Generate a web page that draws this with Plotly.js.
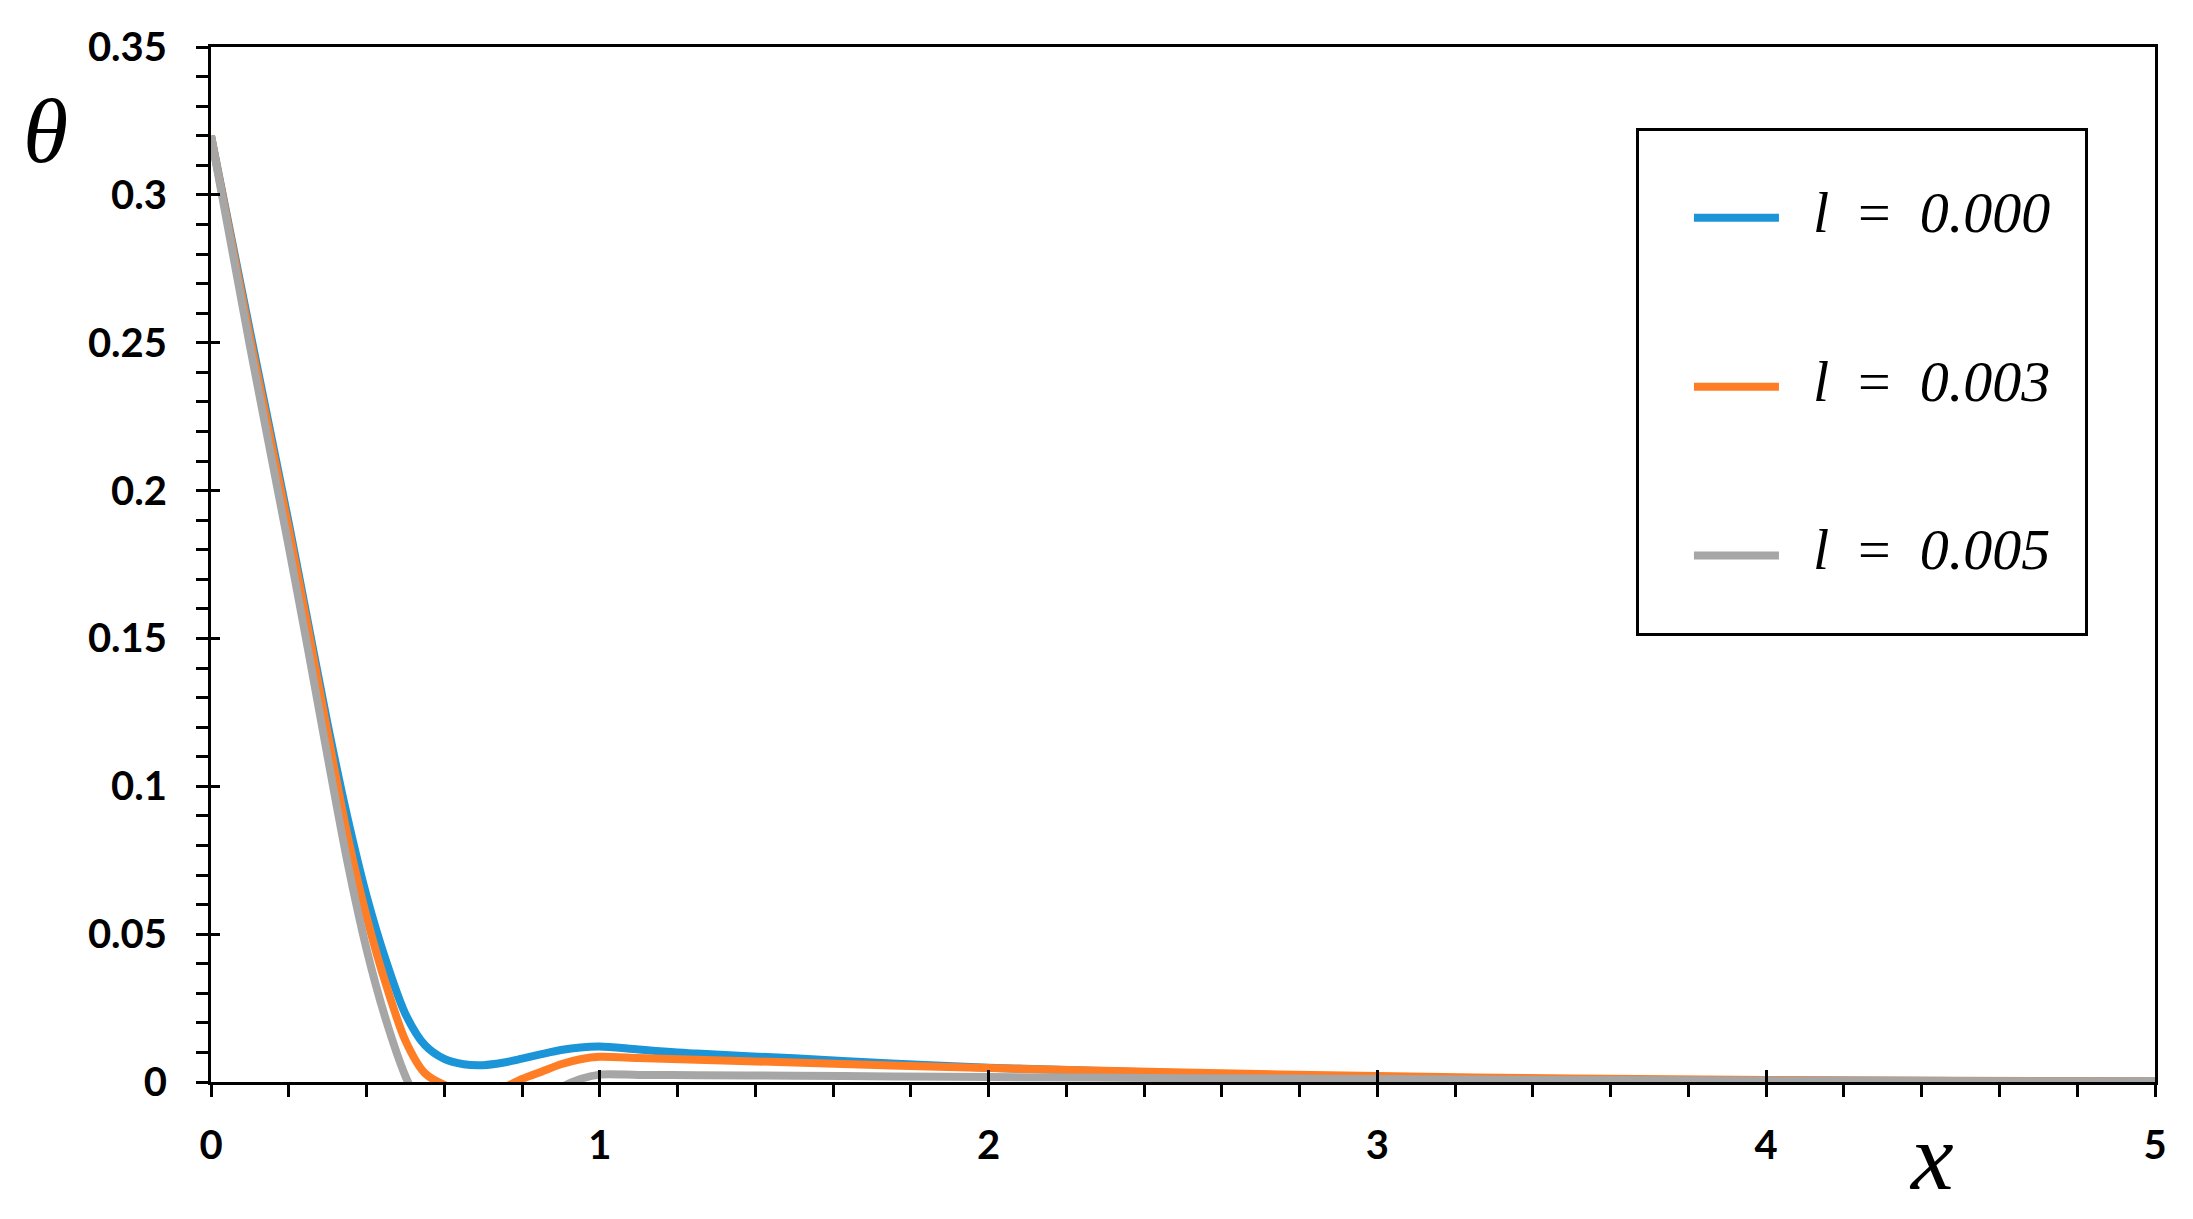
<!DOCTYPE html>
<html>
<head>
<meta charset="utf-8">
<script src="https://cdn.plot.ly/plotly-3.0.1.min.js"></script>
<style>
  body { margin: 0; background: #fff; }
</style>
</head>
<body>
<div id="chart" style="width:2193px;height:1219px"></div>
<script>
// values
const xVals = [0, 0.1, 0.2, 0.25, 0.3, 0.35, 0.4, 0.45, 0.5, 0.55, 0.6, 0.65, 0.7, 0.75, 0.8, 0.85,
  0.9, 0.95, 1.0, 1.1, 1.25, 1.5, 1.75, 2.0, 2.5, 3.0, 3.5, 4.0, 4.5, 5.0];

const thetaL000 = [0.32, 0.254, 0.189, 0.155, 0.121, 0.09, 0.063, 0.041, 0.023, 0.0125, 0.0078, 0.006,
  0.0057, 0.0065, 0.0079, 0.0094, 0.0108, 0.0117, 0.012, 0.011, 0.0096, 0.008, 0.0063, 0.0048,
  0.003, 0.0016, 0.0009, 0.0005, 0.0003, 0.0002];

const thetaL003 = [0.32, 0.252, 0.187, 0.153, 0.118, 0.084, 0.056, 0.033, 0.014, 0.003, -0.001, -0.003,
  -0.0035, -0.002, 0.001, 0.0035, 0.006, 0.0077, 0.0085, 0.0081, 0.0075, 0.0066, 0.0056, 0.0047,
  0.0032, 0.002, 0.0012, 0.0007, 0.0004, 0.0002];

const thetaL005 = [0.32, 0.249, 0.181, 0.146, 0.11, 0.075, 0.045, 0.021, 0.002, -0.011, -0.019, -0.023,
  -0.024, -0.02, -0.014, -0.008, -0.002, 0.001, 0.0025, 0.0024, 0.0023, 0.0021, 0.0019, 0.0017,
  0.0013, 0.001, 0.0007, 0.0005, 0.0003, 0.0002];

const lValues = ["0.000", "0.003", "0.005"];
const lineColors = ["#1B94D8", "#FF7D25", "#A6A6A6"];

const sp = "\u00A0";
const makeName = (v, last) =>
  "<span style='font-size:58px'>" + sp + sp + "<i>l</i>" + sp + sp + "=" + sp + sp +
  "<i>" + v + "</i>" + sp + sp + "</span>" + (last ? "<br>" + sp : "");

const ySeries = [thetaL000, thetaL003, thetaL005];
let traces = ySeries.map((ys, i) => ({
  name: makeName(lValues[i], i === ySeries.length - 1),
  x: xVals,
  y: ys,
  type: "scatter",
  mode: "lines",
  line: { color: lineColors[i], width: 8, shape: "spline", smoothing: 0.8 },
  legendgroup: "g" + i,
  hoverinfo: "skip",
}));

// empty trace so the overlay axes (inner half of the crossing major ticks) get drawn
traces.push({ x: [], y: [], xaxis: "x2", yaxis: "y2", type: "scatter", showlegend: false });

const tickFont = { family: "Lato", size: 40, color: "#000", weight: "bold" };

let layout = {
  width: 2193,
  height: 1219,
  margin: { l: 211, r: 38, t: 47, b: 137, pad: 0 },
  paper_bgcolor: "#fff",
  plot_bgcolor: "#fff",
  showlegend: true,
  legend: {
    x: 0.733,
    y: 0.922,
    xanchor: "left",
    yanchor: "top",
    bgcolor: "#fff",
    bordercolor: "#000",
    borderwidth: 3,
    font: { family: "Liberation Serif", size: 36, color: "#000" },
    title: { text: sp, font: { size: 44 } },
    itemwidth: 85,
    indentation: 50,
    valign: "top",
    tracegroupgap: 119,
  },
  xaxis: {
    range: [0, 5],
    dtick: 1,
    tick0: 0,
    ticks: "outside",
    ticklen: 12,
    tickwidth: 3,
    tickcolor: "#000",
    minor: { dtick: 0.2, ticks: "outside", ticklen: 12, tickwidth: 3, tickcolor: "#000", showgrid: false },
    showline: true,
    linecolor: "#000",
    linewidth: 3,
    mirror: true,
    showgrid: false,
    zeroline: false,
    tickfont: tickFont,
    ticklabelstandoff: 14,
    fixedrange: true,
  },
  yaxis: {
    range: [0, 0.35],
    dtick: 0.05,
    tick0: 0,
    ticks: "outside",
    ticklen: 12,
    tickwidth: 3,
    tickcolor: "#000",
    minor: { dtick: 0.01, ticks: "outside", ticklen: 12, tickwidth: 3, tickcolor: "#000", showgrid: false },
    showline: true,
    linecolor: "#000",
    linewidth: 3,
    mirror: true,
    showgrid: false,
    zeroline: false,
    tickfont: tickFont,
    ticklabelstandoff: 21,
    fixedrange: true,
  },
  xaxis2: {
    overlaying: "x",
    anchor: "y2",
    range: [0, 5],
    dtick: 1,
    tick0: 0,
    ticks: "inside",
    ticklen: 12,
    tickwidth: 3,
    tickcolor: "#000",
    showticklabels: false,
    showline: false,
    showgrid: false,
    zeroline: false,
    fixedrange: true,
  },
  yaxis2: {
    overlaying: "y",
    anchor: "x2",
    range: [0, 0.35],
    dtick: 0.05,
    tick0: 0,
    ticks: "inside",
    ticklen: 9,
    tickwidth: 3,
    tickcolor: "#000",
    showticklabels: false,
    showline: false,
    showgrid: false,
    zeroline: false,
    fixedrange: true,
  },
  annotations: [
    {
      text: "<i>θ</i>",
      xref: "paper", yref: "paper",
      x: -0.085, y: 0.919,
      xanchor: "center", yanchor: "middle",
      showarrow: false,
      font: { family: "Liberation Serif", size: 92, color: "#000" },
    },
    {
      text: "<i>x</i>",
      xref: "paper", yref: "paper",
      x: 0.885, y: -0.072,
      xanchor: "center", yanchor: "middle",
      showarrow: false,
      font: { family: "Liberation Serif", size: 96, color: "#000" },
    },
  ],
};

let config = { staticPlot: true, displayModeBar: false };
Plotly.newPlot("chart", traces, layout, config);
</script>
</body>
</html>
